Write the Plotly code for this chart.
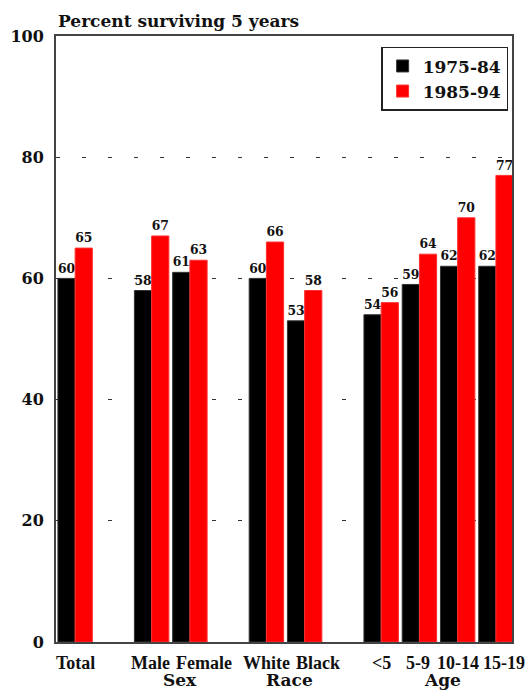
import plotly.graph_objects as go

# Category slots; empty strings are spacer slots between groups
categories = ["Total", "", "Male", "Female", "", "White", "Black", "", "<5", "5-9", "10-14", "15-19"]
surv_1975_84 = [60, None, 58, 61, None, 60, 53, None, 54, 59, 62, 62]
surv_1985_94 = [65, None, 67, 63, None, 66, 58, None, 56, 64, 70, 77]
group_labels = ["Sex", "Race", "Age"]
group_centers = [2.5, 5.5, 9.5]
y_ticks = [0, 20, 40, 60, 80, 100]

FONT = "DejaVu Serif"
LABEL_FONT = "Liberation Serif"
xpos = list(range(len(categories)))
# horizontal nudges (px) so neighbouring category labels don't collide
label_nudge = [0, 0, -1, 14, 0, 0, 13, 0, 0, -1, 0, 8]
group_nudge = [9, 4, 4]


def labels(vals):
    return [("" if v is None else f"<b>{v}</b>") for v in vals]


fig = go.Figure()
fig.add_trace(go.Bar(
    x=xpos, y=surv_1975_84, name="<b>1975-84</b>",
    marker=dict(color="#000000", line=dict(color="#333333", width=1)),
    text=labels(surv_1975_84), textposition="outside", cliponaxis=False,
    textfont=dict(family=FONT, size=13, color="#111111"),
))
fig.add_trace(go.Bar(
    x=xpos, y=surv_1985_94, name="<b>1985-94</b>",
    marker=dict(color="#ff0000", line=dict(color="#ff3030", width=1)),
    text=labels(surv_1985_94), textposition="outside", cliponaxis=False,
    textfont=dict(family=FONT, size=13, color="#111111"),
))

annotations = [
    dict(text="<b>Percent surviving 5 years</b>", x=0, xref="paper", xanchor="left",
         y=1.0, yref="paper", yanchor="bottom", yshift=3, showarrow=False,
         font=dict(family=FONT, size=17, color="#111111")),
]
for cat, xp, dx in zip(categories, xpos, label_nudge):
    if cat:
        annotations.append(dict(text=f"<b>{cat}</b>", x=xp, xref="x", y=0, yref="paper",
                                yanchor="top", yshift=-9, xshift=dx, showarrow=False,
                                font=dict(family=LABEL_FONT, size=18, color="#111111")))
for lab, cx, dx in zip(group_labels, group_centers, group_nudge):
    annotations.append(dict(text=f"<b>{lab}</b>", x=cx, xref="x", y=0, yref="paper",
                            yanchor="top", yshift=-26, xshift=dx, showarrow=False,
                            font=dict(family=FONT, size=17, color="#111111")))

fig.update_layout(
    width=526, height=691,
    margin=dict(l=56, r=14, t=36, b=49, autoexpand=False),
    paper_bgcolor="white", plot_bgcolor="white",
    barmode="group", bargap=0.1, bargroupgap=0,
    showlegend=True,
    legend=dict(x=0.713, y=0.982, xanchor="left", yanchor="top",
                bordercolor="#222222", borderwidth=1.5, bgcolor="white",
                font=dict(family=FONT, size=17, color="#111111"),
                itemwidth=30, tracegroupgap=4),
    annotations=annotations,
    font=dict(family=FONT, color="#111111"),
)
fig.update_xaxes(
    range=[-0.5, 11.42], tickmode="array", tickvals=xpos,
    ticktext=["" for _ in categories], automargin=False,
    showgrid=False, showline=True, linecolor="#444444", linewidth=2, mirror=True,
    ticks="", zeroline=False,
)
fig.update_yaxes(
    range=[0, 100], tickmode="array", tickvals=y_ticks,
    ticktext=[f"<b>{v}</b>" for v in y_ticks],
    tickfont=dict(family=FONT, size=16, color="#111111"), automargin=False,
    showgrid=True, gridcolor="#333333", gridwidth=1, griddash="4px,22px",
    showline=True, linecolor="#444444", linewidth=2, mirror=True,
    ticks="", ticklabelstandoff=7, zeroline=False,
)

fig.write_html("out.html")
